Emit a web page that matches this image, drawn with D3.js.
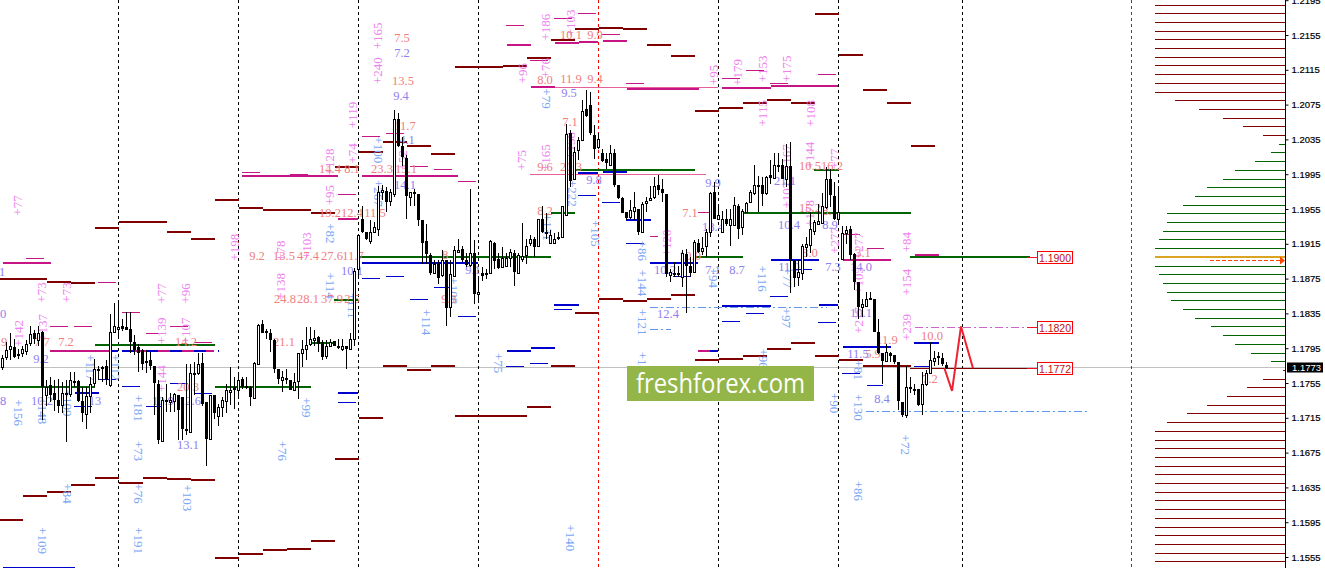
<!DOCTYPE html>
<html><head><meta charset="utf-8">
<style>html,body{margin:0;padding:0;background:#fff;overflow:hidden}svg{display:block}</style>
<script src="https://d3js.org/d3.v7.min.js"></script></head><body>
<script>
// Prices are in points (1.1773 = 11773); time is in bars (4-hour candles)
const opens=[11773,11785,11794,11796,11788,11789,11792,11801,11812,11804,
11814,11741,11753,11743,11735,11730,11744,11742,11757,11757,
11734,11719,11740,11755,11771,11773,11774,11753,11814,11819,
11821,11819,11817,11802,11796,11793,11780,11781,11775,11754,
11688,11736,11733,11734,11741,11739,11702,11699,11766,11766,
11778,11733,11691,11741,11717,11727,11734,11745,11750,11747,
11760,11751,11750,11738,11777,11823,11815,11813,11804,11771,
11759,11761,11758,11747,11757,11789,11794,11800,11806,11808,
11802,11786,11797,11803,11798,11794,11797,11794,11806,11886,
11944,11929,11918,11929,11932,11976,11976,11964,11972,12058,
12027,12014,11969,11975,11972,11942,11918,11902,11882,11893,
11879,11896,11842,11878,11906,11909,11896,11891,11904,11858,
11881,11881,11881,11916,11897,11888,11890,11899,11904,11881,
11898,11902,11916,11921,11913,11944,11929,11916,11916,11923,
11923,11948,12042,11989,12023,12034,12070,12074,12040,12026,
12019,12012,12006,12019,11983,11968,11952,11946,11953,11955,
11929,11962,11966,11969,11983,11978,11972,11879,11882,11881,
11877,11903,11890,11883,11916,11907,11912,11929,11974,11944,
11929,11944,11937,11937,11959,11934,11952,11963,11973,11983,
11983,11973,11994,11991,12006,12006,11989,12004,11895,11877,
11881,11911,11914,11930,11938,11939,11957,11990,11970,11943,
11898,11927,11932,11903,11871,11842,11843,11853,11851,11814,
11789,11780,11789,11787,11779,11733,11718,11750,11748,11748,
11731,11754,11766,11780,11786,11784,11776];
const closes=[11784,11793,11797,11785,11786,11794,11800,11811,11805,11813,
11750,11750,11741,11735,11729,11743,11741,11758,11755,11734,
11720,11740,11754,11771,11770,11771,11759,11814,11820,11819,
11817,11816,11802,11793,11790,11777,11778,11775,11755,11689,
11735,11734,11736,11742,11724,11702,11700,11766,11765,11777,
11731,11691,11741,11720,11727,11735,11747,11747,11747,11758,
11750,11750,11739,11778,11822,11812,11812,11804,11771,11760,
11762,11759,11747,11756,11789,11794,11799,11805,11807,11800,
11785,11797,11802,11798,11795,11797,11794,11805,11884,11925,
11929,11920,11929,11934,11975,11977,11963,11975,12059,12027,
12015,11970,11974,11972,11942,11916,11903,11881,11892,11876,
11896,11841,11880,11908,11908,11896,11891,11904,11857,11860,
11878,11880,11918,11895,11887,11899,11899,11905,11883,11902,
11901,11912,11921,11911,11943,11929,11926,11925,11921,11921,
11958,12041,11987,12021,12034,12068,12062,12042,12024,12035,
12010,12008,12019,11983,11968,11950,11945,11954,11957,11929,
11961,11964,11968,11981,11977,11973,11880,11883,11881,11880,
11904,11890,11881,11917,11906,11910,11928,11973,11944,11948,
11943,11938,11943,11960,11932,11953,11962,11975,11983,11982,
11972,11992,11991,12006,12004,11990,12004,11895,11876,11883,
11913,11915,11932,11940,11941,11959,11989,11971,11943,11952,
11927,11931,11902,11871,11842,11846,11852,11851,11814,11789,
11780,11791,11786,11779,11734,11718,11750,11748,11746,11730,
11754,11766,11782,11784,11784,11777,11772];
const highs=[11787,11802,11812,11806,11794,11798,11804,11821,11816,11821,
11815,11758,11762,11758,11760,11756,11758,11768,11768,11759,
11750,11750,11762,11783,11775,11774,11781,11834,11847,11847,
11829,11837,11837,11810,11800,11794,11793,11791,11775,11758,
11739,11754,11743,11743,11741,11739,11777,11777,11779,11789,
11789,11733,11741,11741,11731,11739,11754,11773,11762,11766,
11762,11762,11752,11779,11823,11827,11817,11817,11806,11771,
11769,11771,11758,11766,11789,11804,11819,11819,11816,11809,
11804,11804,11806,11803,11806,11806,11797,11812,11887,11925,
11959,11929,11942,11940,11982,11983,11980,11978,12069,12065,
12038,12017,11975,11978,11972,11942,11938,11904,11896,11896,
11908,11896,11896,11913,11921,11913,11904,11978,11919,11875,
11888,11886,11919,11917,11904,11911,11904,11909,11908,11904,
11939,11921,11925,11923,11944,11959,11950,11931,11927,11929,
11959,12053,12046,12026,12038,12080,12092,12090,12051,12042,
12024,12019,12028,12024,11983,11969,11952,11965,11975,11955,
11963,11969,11982,11992,11994,11990,11972,11886,11894,11890,
11908,11909,11900,11919,11921,11923,11932,11975,11986,11959,
11953,11955,11955,11969,11961,11955,11963,11977,12006,11993,
11992,11993,12011,12019,12019,12012,12030,12032,11896,11896,
11915,11923,11952,11942,11961,11973,12003,12001,11986,11980,
11936,11936,11935,11904,11871,11852,11860,11860,11852,11828,
11789,11800,11791,11787,11779,11733,11775,11762,11754,11748,
11768,11770,11802,11792,11791,11789,11779];
const lows=[11770,11782,11781,11784,11783,11785,11787,11798,11800,11798,
11713,11729,11733,11723,11720,11720,11687,11739,11750,11733,
11710,11702,11720,11750,11758,11756,11753,11750,11814,11806,
11815,11816,11789,11787,11768,11770,11766,11770,11718,11685,
11687,11722,11722,11722,11689,11689,11695,11697,11741,11764,
11729,11660,11690,11714,11706,11716,11720,11730,11725,11739,
11748,11748,11728,11737,11777,11812,11806,11791,11766,11754,
11745,11754,11747,11746,11737,11773,11781,11798,11798,11791,
11781,11783,11796,11797,11794,11792,11771,11794,11798,11875,
11927,11919,11915,11927,11924,11965,11952,11959,11969,12026,
12005,11944,11959,11959,11936,11892,11892,11879,11881,11869,
11877,11821,11831,11877,11904,11894,11888,11888,11846,11850,
11872,11874,11881,11886,11886,11887,11888,11888,11866,11881,
11894,11892,11912,11900,11911,11927,11921,11915,11916,11919,
11923,11947,11980,11988,12011,12034,12061,12040,12013,12024,
12009,12001,12005,11980,11967,11950,11942,11944,11942,11925,
11927,11952,11964,11967,11971,11963,11877,11871,11877,11877,
11865,11835,11877,11881,11904,11902,11900,11923,11943,11943,
11927,11936,11912,11935,11921,11925,11950,11962,11971,11952,
11959,11971,11984,11990,11998,11990,11980,11858,11865,11866,
11873,11900,11904,11925,11938,11938,11955,11957,11942,11940,
11897,11915,11896,11862,11829,11831,11842,11850,11814,11788,
11754,11779,11779,11777,11724,11716,11715,11743,11741,11729,
11718,11752,11765,11775,11776,11775,11771];

// one value per trading day
const dailyUpper=[11874,11874,11871,11870,11933,11940,11940,11928,11920,11965,11956,11954,11954,11950,12003,12020,12032,12027,12018,12118,12118,12119,12129,12149,12162,12163,12162,12143,12131,12068,12071,12077,12080,12077,12179,12132,12092,12077,12027];
const dailyLower=[11598,11625,11630,11638,11646,11640,11646,11645,11644,11554,11559,11563,11564,11573,11668,11715,11774,11770,11775,11717,11717,11717,11727,11774,11835,11851,11849,11851,11856,11782,11783,11786,11794,11801,11786,11782,11774,11775];

// [start bar, end bar, price]
const magentaThick=[[0.7,12.7,11893],[12.5,29.5,11792],[30.5,53.5,11792],[60.5,84.5,11993],[84.5,89.5,11943],[90.5,114.5,11993],[114.5,119.5,11893],[126.75,132.75,12143],[132.75,138.75,12095],[138.75,144.75,12146],[144.75,149.5,12147],[150.75,156.75,12148],[156.75,174.75,12093],[180.5,192.75,12094],[192.75,209.5,12096],[210.75,222.75,11896],[228.75,234.75,11902],[174.5,177.5,11792]];
const magentaThin=[[6.5,11,11899],[12.5,17,11820],[18.5,23,11820],[24.5,29,11871],[30.5,35,11837],[36.5,41,11813],[42.5,47,11820],[48.5,53,11802],[60.5,65,11998],[72.5,77,11995],[84.5,89,11972],[90.5,95,12039],[96.5,101,12042],[102.5,107,12004],[108.5,113,12001],[114.5,119,11987],[126.5,131,12166],[132.5,137,12126],[138.5,143,12175],[144.5,149,12180],[150.5,155,12156],[156.5,161,12100],[162.5,164.5,11924],[174.5,177.25,11952],[180.5,185,12106],[186.5,191,12115],[192.5,197,12100],[204.5,209,12110],[210.75,215,11926],[216.75,221,11910]];
const greenThick=[[0,23.75,11750],[23.75,53.75,11799],[53.75,77.75,11750],[77.75,83.5,11801],[83.5,89.5,11850],[89.5,137.75,11900],[137.75,143.75,11950],[143.75,173.75,12000],[173.75,185.75,11900],[185.75,227.75,11950],[203.5,209.5,12000],[227.5,257.5,11900]];
const blueThick=[[18.75,24.75,11743],[27.5,29.5,11792],[84.5,89.5,11743],[90.5,119.5,11893],[138.5,144.75,11845],[126.75,132.75,11792],[132.75,138.75,11795],[144.5,149.5,11996],[150.75,156.75,11997],[156.5,162.75,11942],[162.5,174.5,11893],[180.5,192.75,11843],[192.75,204.75,11896],[204.75,209.5,11845],[210.75,222.75,11796],[228.5,234.75,11801],[177.5,179.5,11792]];
const blueDashed=[[30.5,54.75,11792]];
const blueThin=[[0.75,18.75,11543],[18.5,23,11728],[24.5,29,11760],[30.5,35,11752],[36.5,41,11728],[42.5,47,11755],[48.5,53,11743],[84.5,89,11733],[90.5,95,11876],[96.5,101,11878],[102.5,107,11852],[108.5,113,11865],[114.5,119,11832],[138.5,143,11840],[126.5,131,11775],[132.5,137,11778],[144.5,149,11971],[150.5,155,11963],[156.5,161,11916],[168.25,172.75,11878],[174.5,179,11781],[180.5,185,11826],[186.5,191,11835],[192.5,197,11855],[198.5,203,11886],[204.5,209,11825],[210.5,215,11766],[216.75,220.75,11753],[228.5,232.25,11774]];
const pinkThin=[[132.5,176.5,11995],[138.75,179.5,12095]];
const skyDashDot=[[162.5,206.75,11842],[216.5,272.5,11723],[162.5,167.75,11817]];
const orchidDashDot=[[228.75,257.5,11819]];
const targetLevel=[[227.5,257.5,11772]];
const redStubs=[[256.75,259.25,11900],[256.75,259.25,11819],[256.75,259.25,11772]];

// red projection path
const zigzagBars=[236.1,238,240.25,243.25];
const zigzagPrices=[11772,11746,11820,11772];

const targetPrices=[11900,11819,11772];
const targetLabels=["1.1900","1.1820","1.1772"];

const weekBars=[29.625,59.625,89.625,119.625,179.625,209.625,240.625];
const currentWeekBar=[149.625];
const greenBar=[282.875];

const axisTicks=[12195,12155,12115,12075,12035,11995,11955,11915,11875,11835,11795,11755,11715,11675,11635,11595,11555];
const lastPrice=11773;

// volume profile: price of the top level, then one count per 10-point level
const profileTop=12190;
const profileCounts=[33,33,33,33,33,33,33,33,33,33,33,28,22,16,11,6,2,4,8,13,16,20,23,26,30,30,31,32,33,33,33,32,31,30,29,26,23,19,16,13,9,4,1,6,10,15,20,25,30,33,33,33,33,33,33,33,33,33,33,33,33,33,33,33,33];
const profilePeakPrice=11900;
const profileSplit=[12030,11780]; // green between these prices

// [bar, price, text]
const upLabels=[[4.5,11959,"+77"],[10.5,11859,"+73"],[16.75,11859,"+73"],[4.75,11812,"+142"],[10.75,11819,"+137"],[40.5,11858,"+77"],[46.5,11858,"+96"],[40.5,11815,"+139"],[46.5,11815,"+107"],[40.5,11760,"+144"],[58.75,11911,"+198"],[70.25,11907,"+78"],[70.25,11866,"+138"],[76.75,11913,"+103"],[82.5,12009,"+128"],[82.5,11971,"+95"],[88.25,12063,"+119"],[88.25,12019,"+74"],[94.5,12154,"+165"],[94.5,12114,"+240"],[130.5,12011,"+75"],[136.5,12014,"+165"],[130.75,12111,"+96"],[136.5,12117,"+76"],[136.5,12164,"+186"],[142.75,12169,"+103"],[178.5,12109,"+95"],[184.5,12112,"+179"],[190.75,12116,"+153"],[196.75,12116,"+175"],[190.75,12065,"+115"],[202.75,12065,"+108"],[202.5,12017,"+144"],[196.75,12014,"+167"],[196.75,11971,"+107"],[202.5,11950,"+178"],[208.75,12013,"+77"],[208.75,11919,"+277"],[166.75,11916,"+120"],[226.75,11917,"+84"],[226.75,11871,"+154"],[226.75,11819,"+239"],[214.75,11827,"+217"],[214.75,11913,"+277"],[214.75,11873,"+105"],[100.75,12011,"+52"],[142.75,12028,"+158"]];
const downLabels=[[4.5,11721,"+156"],[10.5,11723,"+148"],[16.75,11732,"+109"],[22.5,11773,"+117"],[28.75,11773,"+112"],[34.5,11726,"+181"],[34.5,11677,"+73"],[76.5,11727,"+99"],[70.5,11677,"+76"],[16.75,11628,"+84"],[34.5,11628,"+76"],[46.75,11623,"+103"],[10.5,11574,"+109"],[34.5,11574,"+191"],[82.5,11927,"+82"],[82.5,11867,"+114"],[94.5,12023,"+100"],[94.5,11973,"+267"],[88,11844,"+111"],[106.5,11825,"+114"],[124.5,11778,"+75"],[142.5,11577,"+140"],[148.75,11927,"+105"],[113.25,11861,"+108"],[136.5,12082,"+79"],[160.5,11907,"+86"],[160.5,11870,"+144"],[160.5,11825,"+121"],[160.5,11783,"+1"],[178.25,11876,"+94"],[190.5,11875,"+116"],[196.5,11830,"+97"],[190.75,11783,"+96"],[208.5,11732,"+90"],[214.5,11727,"+130"],[214.5,11631,"+86"],[214.5,11770,"+81"],[226.25,11684,"+72"],[196.75,11876,"+77"],[143,11973,"+222"],[136.75,11934,"+131"]];
const coralLabels=[[1,11802,"9"],[10.5,11802,"7.7"],[16.5,11802,"7.2"],[46.5,11802,"14.2"],[47,11751,"20.3"],[71,11802,"21.1"],[71.25,11852,"24.8"],[77,11852,"28.1"],[83,11852,"37.9"],[88,11852,"2.5"],[64.25,11901,"9.2"],[71,11901,"13.5"],[77,11901,"47.4"],[83,11901,"27.6"],[88.25,11901,"11.7"],[82.5,11951,"19.2"],[88,11951,"12.4"],[93.75,11951,"11.5"],[82.5,12001,"14.4"],[88,12001,"8.1"],[95.5,12001,"23.3"],[101.5,12001,"13.1"],[100.75,12102,"13.5"],[100.5,12152,"7.5"],[101.25,12051,"11.7"],[112.25,11852,"9.3"],[111.25,11902,"8"],[136.25,12003,"9.6"],[142.75,12003,"20.3"],[136.25,11953,"8.2"],[142.5,12055,"7.1"],[136.25,12103,"8.0"],[142.75,12104,"11.9"],[148.75,12104,"9.4"],[142.75,12155,"10.1"],[148.75,12155,"9.9"],[172.5,11951,"7.1"],[172.5,11901,"10.0"],[202.5,12004,"10.5"],[208,12004,"16.2"],[202.5,11956,"15.2"],[207.5,11953,"8.1"],[202.5,11904,"8.0"],[215.75,11904,"3.1"],[221.75,11805,"11.9"],[233,11809,"10.0"],[232.5,11760,"7.2"],[218.25,11788,"5.9"]];
const purpleLabels=[[0.75,11835,"0"],[0.75,11735,"8"],[0.5,11883,"1"],[10.25,11783,"9.2"],[10.5,11735,"10.2"],[23.75,11735,"13"],[40.75,11735,"10.9"],[47.5,11735,"12.6"],[47,11684,"13.1"],[88,11884,"10.1"],[101.25,11983,"14.1"],[101.75,12034,"4.1"],[100.25,12085,"9.4"],[100.5,12135,"7.2"],[142.25,12088,"9.5"],[148.5,11988,"9.8"],[167,11835,"12.4"],[166.25,11885,"10.2"],[178.25,11985,"9.9"],[178.25,11934,"18.4"],[184.25,11885,"8.7"],[178.25,11885,"7.1"],[196.25,11987,"21.1"],[197.25,11937,"10.4"],[197.25,11888,"11.0"],[207.5,11937,"8.9"],[208.25,11888,"7.3"],[215.25,11888,"14.0"],[215.25,11836,"10.1"],[214.5,11788,"11.5"],[220.5,11737,"8.4"],[118.25,11885,"9.1"]];

const W=1325,H=568;
const x=d3.scaleLinear().domain([0,1]).range([0,4]);
const y=d3.scaleLinear().domain([12155,11555]).range([35,557]);
const py=p=>Math.round(y(p));
const svg=d3.select("body").append("svg").attr("width",W).attr("height",H);

// price line
const axisX=1285;
svg.append("line").attr("x1",0).attr("x2",axisX).attr("y1",py(lastPrice)+.5).attr("y2",py(lastPrice)+.5).attr("stroke","#c0c0c0");

// period separators
function vlines(bars,color){
  svg.append("g").selectAll("line").data(bars).join("line")
    .attr("x1",d=>x(d)).attr("x2",d=>x(d)).attr("y1",0).attr("y2",H)
    .attr("stroke",color).attr("stroke-dasharray","3,3");
}
vlines(weekBars,"#000");vlines(currentWeekBar,"#f00");vlines(greenBar,"#008000");

// level segments
function segs(data,color,w,dash){
  svg.append("g").attr("shape-rendering","crispEdges").selectAll("line").data(data).join("line")
    .attr("x1",d=>x(d[0])).attr("x2",d=>x(d[1]))
    .attr("y1",d=>py(d[2])+(w%2?.5:0)).attr("y2",d=>py(d[2])+(w%2?.5:0))
    .attr("stroke",color).attr("stroke-width",w).attr("stroke-dasharray",dash||null);
}
const dayBar=d=>6*d-0.375;
const daily=a=>a.map((p,d)=>[dayBar(d),dayBar(d+1),p]);
segs(pinkThin,"#e8609a",1);
segs(magentaThick,"#c71585",2);
segs(magentaThin,"#c71585",1);
segs(greenThick,"#006400",2);
segs(blueThick,"#0000cd",2);
segs(blueDashed,"#0000cd",2,"12,12");
segs(blueThin,"#0000cd",1);
segs(daily(dailyUpper),"#800000",2);
segs(daily(dailyLower),"#800000",2);
segs(targetLevel,"#800000",1.5);
segs(skyDashDot,"#6495ed",1,"8,3,2,3");
segs(orchidDashDot,"#cc66cc",1,"8,3,2,3");
segs(redStubs,"#f01020",1);

// text labels
function labels(data,color,rot,size){
  svg.append("g").selectAll("text").data(data).join("text")
    .attr("transform",d=>`translate(${x(d[0])},${y(d[1])}) rotate(${rot})`)
    .attr("text-anchor","middle").attr("dy","0.33em")
    .attr("font-family","'Liberation Serif',serif").attr("font-size",size)
    .attr("fill",color).text(d=>d[2]);
}
labels(upLabels,"#ee82ee",-90,13);
labels(downLabels,"#7aa5f5",90,13);
labels(coralLabels,"#f08080",0,12.5);
labels(purpleLabels,"#8f80f0",0,12.5);

// candles
const bars=d3.range(opens.length);
const cx=i=>x(i+0.625);
const cg=svg.append("g").attr("shape-rendering","crispEdges");
cg.selectAll("line").data(bars).join("line")
  .attr("x1",cx).attr("x2",cx)
  .attr("y1",i=>py(highs[i])).attr("y2",i=>py(lows[i]))
  .attr("stroke","#000");
cg.selectAll("rect").data(bars).join("rect")
  .each(function(i){
    const up=closes[i]>=opens[i];
    const t=py(Math.max(opens[i],closes[i])),b=py(Math.min(opens[i],closes[i]));
    const s=d3.select(this);
    if(up){ s.attr("x",cx(i)-1).attr("width",2).attr("y",t+.5).attr("height",Math.max(b-t,2)).attr("fill","#fff").attr("stroke","#000"); }
    else  { s.attr("x",cx(i)-1.5).attr("width",3).attr("y",t).attr("height",Math.max(b-t,2)).attr("fill","#000"); }
  });

// zigzag projection
svg.append("path")
  .attr("d",d3.line().x((d,i)=>x(zigzagBars[i])).y(d=>y(d))(zigzagPrices))
  .attr("fill","none").attr("stroke","#ee2233").attr("stroke-width",2);

// target price boxes
const tg=svg.append("g").selectAll("g").data(targetPrices).join("g")
  .attr("transform",d=>`translate(${x(259.25)},${py(d)})`);
tg.append("rect").attr("x",.5).attr("y",-5.5).attr("width",35).attr("height",12).attr("fill","#fff").attr("stroke","#f00").attr("shape-rendering","crispEdges");
tg.append("text").attr("x",18).attr("y",4.5).attr("text-anchor","middle")
  .attr("font-family","'Liberation Sans',sans-serif").attr("font-size",10.5).attr("fill","#c01010")
  .text((d,i)=>targetLabels[i]);

// volume profile
const vx=d3.scaleLinear().domain([0,33]).range([1287,1155]);
const pg=svg.append("g").attr("shape-rendering","crispEdges");
pg.selectAll("line").data(profileCounts).join("line")
  .attr("x1",d=>vx(d)).attr("x2",axisX)
  .attr("y1",(d,i)=>py(profileTop-10*i)+(profileTop-10*i===profilePeakPrice?0:.5))
  .attr("y2",(d,i)=>py(profileTop-10*i)+(profileTop-10*i===profilePeakPrice?0:.5))
  .attr("stroke-width",(d,i)=>profileTop-10*i===profilePeakPrice?2:1)
  .attr("stroke",(d,i)=>{const p=profileTop-10*i;
    return p===profilePeakPrice?"#daa520":(p<=profileSplit[0]&&p>=profileSplit[1])?"#006400":"#800000";});
// median arrow
const arrowY=py(profilePeakPrice)+3.5;
svg.append("line").attr("x1",1210).attr("x2",1281).attr("y1",arrowY).attr("y2",arrowY).attr("stroke","#ff4500").attr("stroke-dasharray","4,2");
svg.append("path").attr("d",`M1280,${arrowY-4}L1285,${arrowY}L1280,${arrowY+4}Z`).attr("fill","#ff4500");

// axis
const ax=svg.append("g").attr("transform",`translate(${axisX+.5},0)`)
  .call(d3.axisRight(y).tickValues(axisTicks).tickSize(3).tickSizeOuter(0).tickFormat(d=>(d/10000).toFixed(4)));
ax.select(".domain").remove();
ax.selectAll("line").attr("stroke","#000");
ax.selectAll("text").attr("x",6).attr("font-family","'Liberation Sans',sans-serif").attr("font-size",9.5).attr("fill","#000").attr("stroke","#000").attr("stroke-width",.2);
svg.append("line").attr("x1",axisX+.5).attr("x2",axisX+.5).attr("y1",0).attr("y2",H).attr("stroke","#000");
svg.append("rect").attr("x",1287).attr("y",py(lastPrice)-4.5).attr("width",36).attr("height",10).attr("fill","#000");
svg.append("text").attr("x",1292).attr("y",py(lastPrice)+4).attr("font-family","'Liberation Sans',sans-serif").attr("font-size",9.5).attr("fill","#fff").text((lastPrice/10000).toFixed(4));

// watermark
svg.append("rect").attr("x",627).attr("y",366).attr("width",187).attr("height",35).attr("fill","#94b547");
svg.append("text").attr("x",636).attr("y",393).attr("font-family","'Open Sans',sans-serif").attr("font-size",26.5)
  .attr("textLength",169).attr("lengthAdjust","spacingAndGlyphs").attr("fill","#fff").text("freshforex.com");
</script></body></html>
